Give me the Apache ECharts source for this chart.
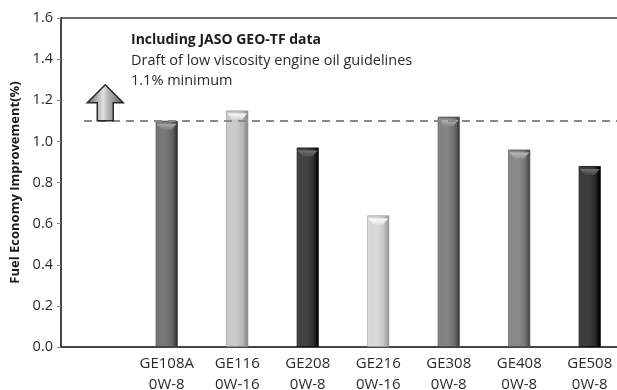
<!DOCTYPE html>
<html>
<head>
<meta charset="utf-8">
<script src="https://cdn.jsdelivr.net/npm/echarts@6/dist/echarts.min.js"></script>
<style>html,body{margin:0;padding:0;background:#fff}#c{width:617px;height:390px}</style>
</head>
<body>
<div id="c"></div>
<script>
// ---- data ----
const categories = ['', 'GE108A\n0W-8', 'GE116\n0W-16', 'GE208\n0W-8', 'GE216\n0W-16', 'GE308\n0W-8', 'GE408\n0W-8', 'GE508\n0W-8'];
const improvement = [null, 1.10, 1.15, 0.97, 0.64, 1.12, 0.96, 0.88];
const guideline = 1.1;
const yTicks = [0.0, 0.2, 0.4, 0.6, 0.8, 1.0, 1.2, 1.4, 1.6];
const annotationLines = ['Including JASO GEO-TF data', 'Draft of low viscosity engine oil guidelines', '1.1% minimum'];

// ---- styles (shade per bar) ----
const shades = [null, 112, 196, 60, 210, 124, 130, 54];

function g(v) { v = Math.max(0, Math.min(255, Math.round(v))); return 'rgb(' + v + ',' + v + ',' + v + ')'; }
function barGradient(v) {
  return new echarts.graphic.LinearGradient(0, 0, 1, 0, [
    { offset: 0, color: g(v + 25) },
    { offset: 0.12, color: g(v + 5) },
    { offset: 0.45, color: g(v + 8) },
    { offset: 0.75, color: g(v - 12) },
    { offset: 0.9, color: g(v - 45) },
    { offset: 1, color: g(v - 80) }
  ]);
}
const FONT = 'Open Sans';
const chart = echarts.init(document.getElementById('c'), null, { renderer: 'canvas' });

const barData = improvement.map((v, i) => v == null ? '-' : {
  value: v,
  itemStyle: { color: barGradient(shades[i]), borderColor: g(shades[i] - 50), borderWidth: 0.8 }
});
const capData = improvement.map((v, i) => v == null ? '-' : {
  value: v,
  itemStyle: { color: new echarts.graphic.LinearGradient(0, 0, 0, 1, [
    { offset: 0, color: g(shades[i] + 55) }, { offset: 1, color: g(shades[i] + 15) }]) }
});

chart.setOption({
  animation: false,
  backgroundColor: '#fff',
  grid: { left: 61, top: 18, right: -8, bottom: 43, show: true, borderColor: '#3a3a3a', borderWidth: 1.5, outerBoundsMode: 'none', containLabel: false },
  title: {
    left: 131, top: 30, itemGap: 0, padding: 0,
    text: annotationLines[0],
    subtext: annotationLines[1] + '\n' + annotationLines[2],
    textStyle: { fontFamily: FONT, fontSize: 14, fontWeight: 'bold', color: '#1a1a1a', lineHeight: 20.5 },
    subtextStyle: { fontFamily: FONT, fontSize: 14.5, color: '#2a2a2a', lineHeight: 20.5 }
  },
  xAxis: {
    type: 'category', data: categories,
    axisLine: { show: true, lineStyle: { color: '#3a3a3a', width: 1.5 } },
    axisTick: { show: false },
    axisLabel: { interval: 0, fontFamily: FONT, fontSize: 15, color: '#2a2a2a', lineHeight: 21, margin: 6 }
  },
  yAxis: {
    type: 'value', min: yTicks[0], max: yTicks[yTicks.length - 1], interval: 0.2,
    name: 'Fuel Economy Improvement(%)', nameLocation: 'middle', nameGap: 36,
    nameTextStyle: { fontFamily: FONT, fontSize: 13, fontWeight: 'bold', color: '#1a1a1a' },
    axisLine: { show: true, lineStyle: { color: '#3a3a3a', width: 1.5 } },
    axisTick: { show: true, length: 4, lineStyle: { color: '#888' } },
    splitLine: { show: false },
    axisLabel: { fontFamily: FONT, fontSize: 14.5, color: '#2a2a2a', margin: 8, formatter: v => v.toFixed(1) }
  },
  series: [
    {
      type: 'bar', data: barData, barWidth: 22, z: 2,
      markLine: {
        silent: true, symbol: 'none', z: 5,
        lineStyle: { type: [8, 6], color: '#8a8a8a', width: 2.2 },
        label: { show: false },
        data: [[{ coord: [0, guideline], x: 84 }, { yAxis: guideline, x: 617 }]]
      },
      markPoint: {
        silent: true,
        data: [{ coord: [0, guideline] }],
        symbol: 'path://M18 0 L36 18 L26 18 L26 36 L10 36 L10 18 L0 18 Z',
        symbolSize: [36, 36],
        symbolOffset: [9, '-50%'],
        label: { show: false },
        itemStyle: {
          color: new echarts.graphic.LinearGradient(0, 0, 1, 0, [
            { offset: 0, color: '#666' }, { offset: 0.45, color: '#e0e0e0' }, { offset: 0.55, color: '#bdbdbd' }, { offset: 1, color: '#555' }]),
          borderColor: '#2a2a2a', borderWidth: 1.5
        }
      }
    },
    {
      type: 'pictorialBar', data: capData, z: 3,
      symbol: 'path://M0 0 L22 0 L16 7 L6 7 Z',
      symbolSize: [20, 6], symbolPosition: 'end', symbolOffset: [0, '50%'],
      barGap: '-100%'
    }
  ]
});
</script>
</body>
</html>
